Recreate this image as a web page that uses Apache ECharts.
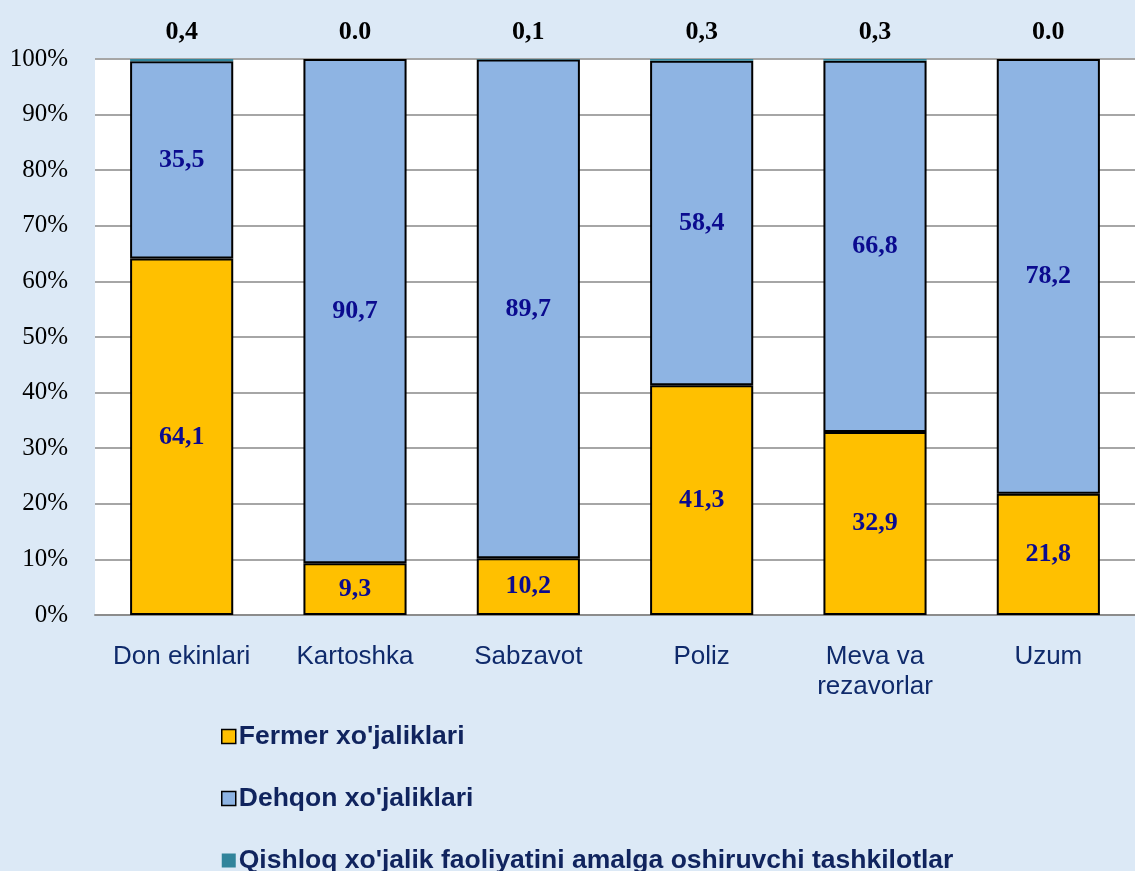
<!DOCTYPE html>
<html>
<head>
<meta charset="utf-8">
<script src="https://cdn.jsdelivr.net/npm/echarts@6/dist/echarts.min.js"></script>
<style>
  html, body { margin: 0; padding: 0; }
  body { background: #dbe8f5; }
  #chart { width: 1135px; height: 871px; }
</style>
</head>
<body>
<div id="chart"></div>
<script>
// 分类与数据
const categories = ['Don ekinlari', 'Kartoshka', 'Sabzavot', 'Poliz', 'Meva va\nrezavorlar', 'Uzum'];
const fermerValues = [64.1, 9.3, 10.2, 41.3, 32.9, 21.8];
const dehqonValues = [35.5, 90.7, 89.7, 58.4, 66.8, 78.2];
const tashkilotValues = [0.4, 0.0, 0.1, 0.3, 0.3, 0.0];
// 顶部标签（原图中小数点写法不统一）
const tashkilotLabels = ['0,4', '0.0', '0,1', '0,3', '0,3', '0.0'];
const yTicks = [0, 10, 20, 30, 40, 50, 60, 70, 80, 90, 100];

const seriesNames = [
  'Fermer xo\'jaliklari',
  'Dehqon xo\'jaliklari',
  'Qishloq xo\'jalik faoliyatini amalga oshiruvchi tashkilotlar'
];

// 柱内数值标签，小数点改为逗号
const innerLabel = {
  show: true,
  position: 'inside',
  fontFamily: 'Liberation Serif',
  fontWeight: 'bold',
  fontSize: 26,
  color: '#0b0b8f',
  formatter: (p) => p.value.toFixed(1).replace('.', ',')
};

const chart = echarts.init(document.getElementById('chart'));

chart.setOption({
  backgroundColor: '#dce9f6',
  animation: false,
  grid: {
    show: true,
    backgroundColor: '#ffffff',
    borderWidth: 0,
    left: 95,
    top: 59,
    width: 1051,
    height: 556
  },
  legend: {
    orient: 'vertical',
    left: 216,
    top: 718,
    height: 170,
    itemGap: 35,
    itemWidth: 14,
    itemHeight: 14,
    icon: 'rect',
    textStyle: {
      fontFamily: 'Liberation Sans',
      fontWeight: 'bold',
      fontSize: 26.5,
      color: '#10245e',
      padding: [0, 0, 0, -2]
    },
    data: [
      { name: seriesNames[0], itemStyle: { borderColor: '#000', borderWidth: 1.5 } },
      { name: seriesNames[1], itemStyle: { borderColor: '#000', borderWidth: 1.5 } },
      { name: seriesNames[2], itemStyle: { borderWidth: 0 } }
    ]
  },
  xAxis: {
    type: 'category',
    data: categories,
    axisLine: { lineStyle: { color: '#8c8c8c', width: 2 } },
    axisTick: { show: false },
    axisLabel: {
      interval: 0,
      fontFamily: 'Liberation Sans',
      fontSize: 26,
      color: '#0f2a6b',
      margin: 27,
      lineHeight: 30
    }
  },
  yAxis: {
    type: 'value',
    min: 0,
    max: 100,
    interval: 10,
    axisLine: { show: false },
    axisTick: { show: false },
    splitLine: { lineStyle: { color: '#a6a6a6', width: 2 } },
    axisLabel: {
      fontFamily: 'Liberation Serif',
      fontSize: 25,
      color: '#000',
      margin: 27,
      formatter: (v) => yTicks.includes(v) ? v + '%' : ''
    }
  },
  series: [
    {
      name: seriesNames[0],
      type: 'bar',
      stack: 'total',
      barWidth: '59.5%',
      data: fermerValues,
      itemStyle: { color: '#ffc000', borderColor: '#000', borderWidth: 2 },
      label: innerLabel
    },
    {
      name: seriesNames[1],
      type: 'bar',
      stack: 'total',
      data: dehqonValues,
      itemStyle: { color: '#8eb4e3', borderColor: '#000', borderWidth: 2 },
      label: innerLabel
    },
    {
      name: seriesNames[2],
      type: 'bar',
      stack: 'total',
      data: tashkilotValues,
      itemStyle: { color: '#31849b', borderColor: '#31849b', borderWidth: 0 },
      label: {
        show: true,
        position: 'top',
        distance: 14,
        fontFamily: 'Liberation Serif',
        fontWeight: 'bold',
        fontSize: 26,
        color: '#000',
        formatter: (p) => tashkilotLabels[p.dataIndex]
      }
    }
  ]
});
</script>
</body>
</html>
